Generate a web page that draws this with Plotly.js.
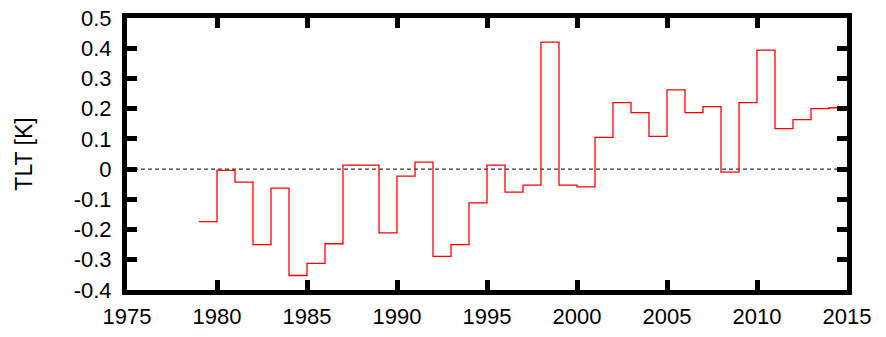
<!DOCTYPE html>
<html><head><meta charset="utf-8">
<script src="https://cdn.plot.ly/plotly-3.0.1.min.js"></script>
<style>html,body{margin:0;padding:0;background:#fff}</style>
</head><body>
<div id="chart" style="width:886px;height:337px"></div>
<script>
const years = [1979,1980,1981,1982,1983,1984,1985,1986,1987,1988,1989,1990,1991,1992,1993,1994,1995,1996,1997,1998,1999,2000,2001,2002,2003,2004,2005,2006,2007,2008,2009,2010,2011,2012,2013,2014];
const tlt = [-0.174,-0.004,-0.043,-0.250,-0.063,-0.352,-0.312,-0.247,0.013,0.013,-0.211,-0.023,0.023,-0.289,-0.250,-0.112,0.013,-0.076,-0.053,0.420,-0.053,-0.059,0.105,0.220,0.187,0.108,0.262,0.187,0.207,-0.010,0.220,0.394,0.134,0.164,0.200,0.203];
const xRange = [1975, 2015];
const xTickVals = [1975,1980,1985,1990,1995,2000,2005,2010,2015];
const yTickVals = [-0.4,-0.3,-0.2,-0.1,0,0.1,0.2,0.3,0.4,0.5];
const yTickLabels = ["-0.4","-0.3","-0.2","-0.1","0","0.1","0.2","0.3","0.4","0.5"];

const stepX = years.concat([years[years.length-1] + 1]);
const stepY = tlt.concat([tlt[tlt.length-1]]);

const font = {family: '"Liberation Sans", Arial, sans-serif', size: 22, color: '#000'};

const traces = [
  {x: xRange, y: [0, 0], mode: 'lines', line: {color: '#000', width: 1, dash: '4px,3px'}, hoverinfo: 'skip'},
  {x: stepX, y: stepY, mode: 'lines', line: {color: '#ff0000', width: 1.3, shape: 'hv'}}
];

const axisCommon = {
  showline: true, linecolor: '#000', linewidth: 5, mirror: 'ticks',
  ticks: 'inside', ticklen: 10, tickwidth: 5, tickcolor: '#000',
  showgrid: false, zeroline: false, tickfont: font
};

const layout = {
  width: 886, height: 337,
  margin: {l: 127, r: 39, t: 18, b: 47},
  paper_bgcolor: '#fff', plot_bgcolor: '#fff',
  showlegend: false,
  font: font,
  xaxis: Object.assign({}, axisCommon, {range: xRange, tickvals: xTickVals, ticklabelstandoff: 3}),
  yaxis: Object.assign({}, axisCommon, {range: [-0.4, 0.5], tickvals: yTickVals, ticktext: yTickLabels,
    ticklabelstandoff: 6,
    title: {text: 'TLT [K]', font: {family: font.family, size: 23, color: '#000'}, standoff: 36}})
};

Plotly.newPlot('chart', traces, layout, {staticPlot: true});
</script>
</body></html>
